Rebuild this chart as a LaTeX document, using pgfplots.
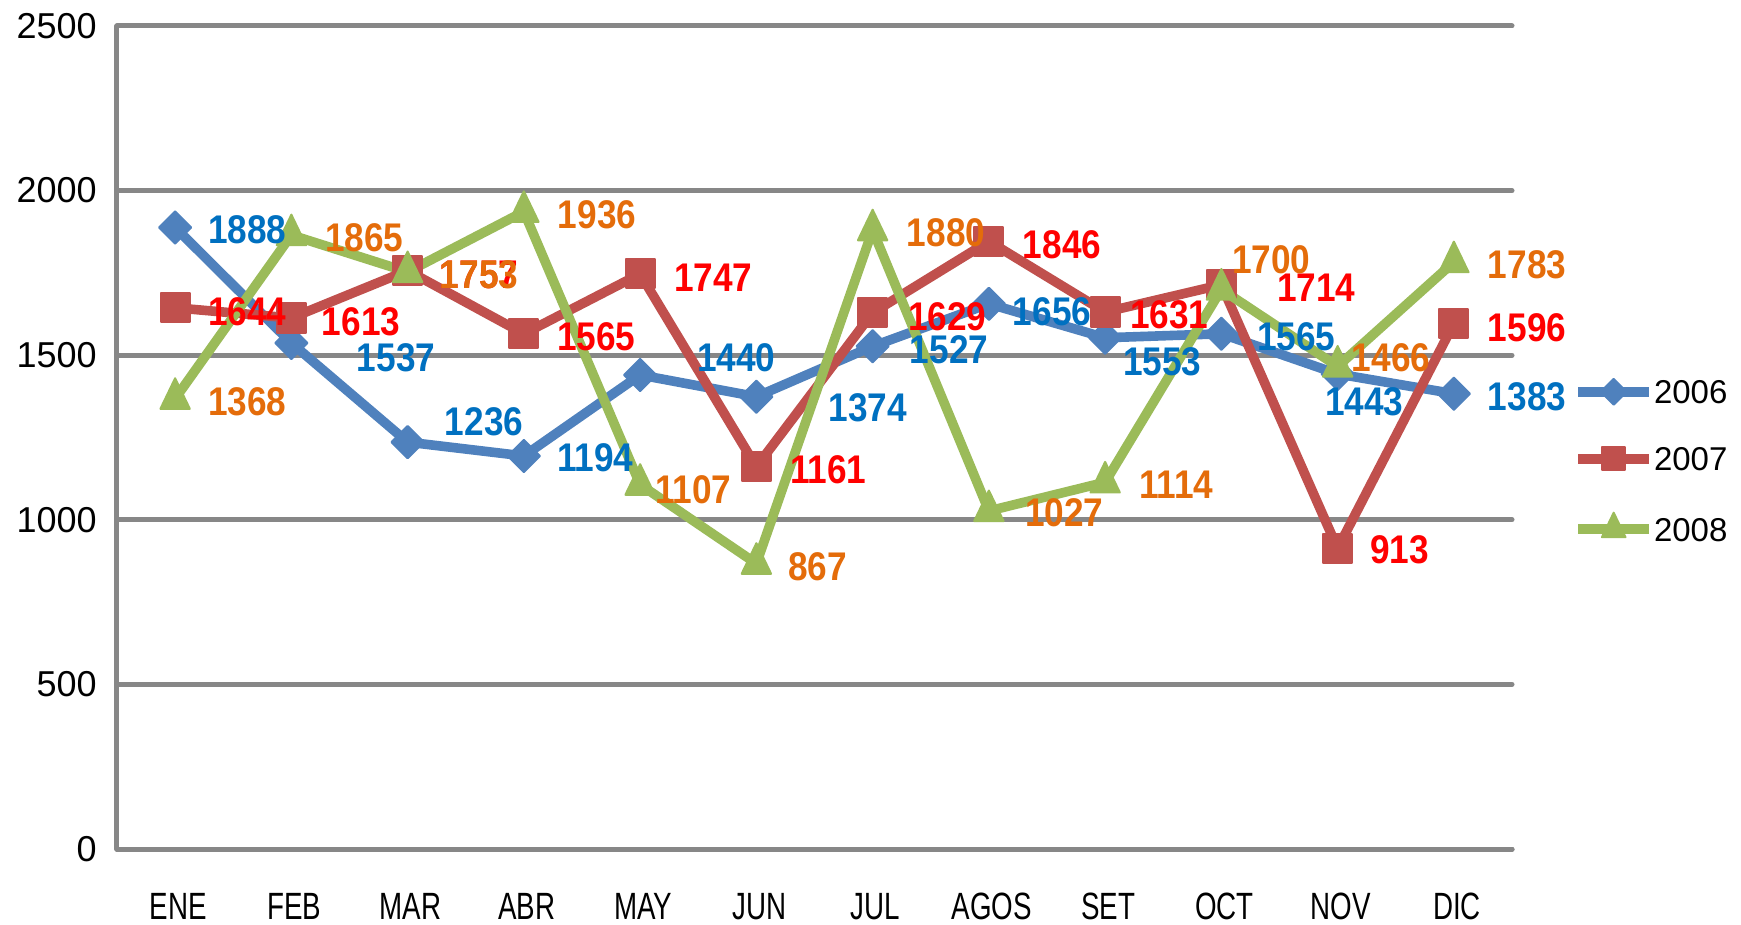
\documentclass[border=0pt]{standalone}
\usepackage{fontspec}
\setmainfont{Liberation Sans}
\newfontfamily\condfont[FakeStretch=0.73]{Liberation Sans}
\newfontfamily\labfont[FakeStretch=0.88]{Liberation Sans}
\usepackage{pgfplots}
\pgfplotsset{compat=1.18}
\definecolor{c06}{HTML}{4F81BD}
\definecolor{c07}{HTML}{C0504D}
\definecolor{c08}{HTML}{9BBB59}
\definecolor{l06}{HTML}{0070C0}
\definecolor{l07}{HTML}{FF0000}
\definecolor{l08}{HTML}{E46C0A}
\definecolor{gridc}{HTML}{878787}
\begin{document}
\begin{tikzpicture}
\path[use as bounding box] (-58.5bp,-38bp) rectangle (812bp,424.5bp);
\begin{axis}[
  scale only axis,
  width=697.5bp, height=411.5bp,
  xmin=-0.5, xmax=11.5, ymin=0, ymax=2500,
  clip=false,
  axis x line*=bottom, axis y line*=left,
  axis line style={-, draw=gridc, line width=2.5bp, line cap=round},
  ymajorgrids, major grid style={draw=gridc, line width=2.5bp, line cap=round},
  ytick={0,500,1000,1500,2000,2500},
  xtick={0,1,2,3,4,5,6,7,8,9,10,11},
  xticklabels={ENE,FEB,MAR,ABR,MAY,JUN,JUL,AGOS,SET,OCT,NOV,DIC},
  major tick length=0pt,
  /pgf/number format/assume math mode=true,
  /pgf/number format/1000 sep={},
  yticklabel style={font=\fontsize{18bp}{21bp}\selectfont, anchor=east, inner sep=0pt, xshift=-10bp},
  xticklabel style={font=\condfont\fontsize{19bp}{22bp}\selectfont, anchor=north, inner sep=0pt, yshift=-22bp, xshift=1.5bp},
  legend style={at={(1.0440,0.4727)}, anchor=west, draw=none, fill=none, inner sep=0pt, outer sep=0pt,
    row sep=21bp, font=\fontsize{16.5bp}{18bp}\selectfont,
    nodes={inner sep=0pt, text height=12bp, text depth=0pt, xshift=2.5bp}},
  legend cell align=left,
  legend image code/.code={
    \draw[mark repeat=2, mark phase=2, #1, every mark/.append style={scale=0.8}]
      plot coordinates {(0bp,0bp) (17.75bp,0bp) (35.5bp,0bp)};
  },
]
\addplot[c06, line width=4.8bp, line join=round, mark=square*, mark size=5.7bp,
  mark options={rotate=45, fill=c06, draw=c06, line width=1bp, line join=round}]
  coordinates {(0,1888) (1,1537) (2,1236) (3,1194) (4,1440) (5,1374) (6,1527) (7,1656) (8,1553) (9,1565) (10,1443) (11,1383)};
\addlegendentry{2006}
\addplot[c07, line width=4.8bp, line join=round, mark=square*, mark size=7.3bp,
  mark options={fill=c07, draw=c07, line width=1bp, line join=round}]
  coordinates {(0,1644) (1,1613) (2,1757) (3,1565) (4,1747) (5,1161) (6,1629) (7,1846) (8,1631) (9,1714) (10,913) (11,1596)};
\addlegendentry{2007}
\addplot[c08, line width=4.8bp, line join=round, mark=triangle*, mark size=8.5bp,
  mark options={yscale=1.2, fill=c08, draw=c08, line width=1bp, line join=round}]
  coordinates {(0,1368) (1,1865) (2,1753) (3,1936) (4,1107) (5,867) (6,1880) (7,1027) (8,1114) (9,1700) (10,1466) (11,1783)};
\addlegendentry{2008}
% data labels 2006
\addplot[only marks, mark=none, forget plot, point meta=explicit symbolic, nodes near coords,
  every node near coord/.append style={anchor=west, inner sep=0pt, text=l06, font=\labfont\bfseries\fontsize{20bp}{22bp}\selectfont}]
  coordinates {(0.280,1880) [1888] (1.561,1491) [1537] (2.318,1297) [1236] (3.282,1188) [1194]
   (4.486,1491) [1440] (5.617,1340) [1374] (6.318,1516) [1527] (7.204,1631) [1656]
   (8.151,1479) [1553] (9.303,1555) [1565] (9.888,1358) [1443] (11.290,1373) [1383]};
% data labels 2007
\addplot[only marks, mark=none, forget plot, point meta=explicit symbolic, nodes near coords,
  every node near coord/.append style={anchor=west, inner sep=0pt, text=l07, font=\labfont\bfseries\fontsize{20bp}{22bp}\selectfont}]
  coordinates {(0.280,1631) [1644] (1.260,1601) [1613] (2.275,1744) [1757] (3.282,1555) [1565]
   (4.288,1734) [1747] (5.286,1151) [1161] (6.301,1616) [1629] (7.290,1835) [1846]
   (8.211,1622) [1631] (9.475,1704) [1714] (10.275,908) [913] (11.290,1583) [1596]};
% data labels 2008
\addplot[only marks, mark=none, forget plot, point meta=explicit symbolic, nodes near coords,
  every node near coord/.append style={anchor=west, inner sep=0pt, text=l08, font=\labfont\bfseries\fontsize{20bp}{22bp}\selectfont}]
  coordinates {(0.280,1358) [1368] (1.286,1856) [1865] (2.275,1744) [1753] (3.290,1926) [1936]
   (4.125,1090) [1107] (5.269,857) [867] (6.292,1871) [1880] (7.308,1021) [1027]
   (8.288,1106) [1114] (9.088,1789) [1700] (10.120,1491) [1466] (11.290,1774) [1783]};
\end{axis}
\end{tikzpicture}
\end{document}
